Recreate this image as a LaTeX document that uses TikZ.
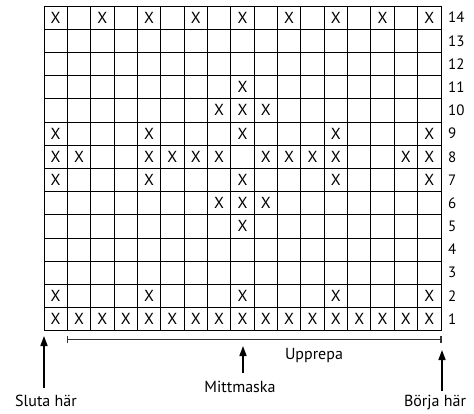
\documentclass[tikz,border=0pt]{standalone}
\usepackage{fontspec}
\setmainfont{PT Sans}
\usetikzlibrary{arrows.meta}
\tikzset{
  gridline/.style={line width=0.9pt},
  xmark/.style={font=\fontsize{16}{16}\selectfont, inner sep=0pt},
  rownum/.style={font=\fontsize{15}{15}\selectfont, anchor=west, inner sep=0pt},
  caption/.style={font=\fontsize{16}{16}\selectfont, inner sep=0pt, anchor=base},
  pointer/.style={line width=1.6pt, -{Triangle[length=10pt,width=7pt]}},
  bracket/.style={line width=1.2pt, draw=black!80}
}
\begin{document}
\begin{tikzpicture}[x=1pt,y=-1pt]
\useasboundingbox (0,0) rectangle (474,414);
\def\cw{23.35}
\def\ch{23.2}
% grid
\foreach \i in {0,...,17} {
  \draw[gridline] ({44+\i*\cw},6) -- ({44+\i*\cw},{6+14*\ch});
}
\foreach \j in {0,...,14} {
  \draw[gridline] (44,{6+\j*\ch}) -- ({44+17*\cw},{6+\j*\ch});
}
% X marks
\foreach \r/\cols in {1/{1,2,3,4,5,6,7,8,9,10,11,12,13,14,15,16,17},
                      2/{1,5,9,13,17},
                      5/{9},
                      6/{8,9,10},
                      7/{1,5,9,13,17},
                      8/{1,2,5,6,7,8,10,11,12,13,16,17},
                      9/{1,5,9,13,17},
                      10/{8,9,10},
                      11/{9},
                      14/{1,3,5,7,9,11,13,15,17}} {
  \foreach \c in \cols {
    \node[xmark] (x-\r-\c) at ({44+\cw*(\c-0.5)},{6+\ch*(14-\r+0.5)}) {X};
  }
}
% row numbers
\foreach \r in {1,...,14} {
  \node[rownum] (row-\r) at (448,{6+\ch*(14-\r+0.5)}) {\r};
}
% repeat bracket
\coordinate (repL) at (67.5,339.5);
\coordinate (repR) at (441,339.5);
\draw[bracket] (repL) -- (repR);
\draw[bracket] ([yshift=-3.5pt]repL) -- ([yshift=3.5pt]repL);
\draw[bracket] ([yshift=-3.5pt]repR) -- ([yshift=3.5pt]repR);
\node[caption] (upprepa) at (314,359) {Upprepa};
% arrows and labels
\node[caption] (sluta) at (46,406) {Sluta här};
\node[caption] (mitt) at (240,392) {Mittmaska};
\node[caption] (borja) at (435,406) {Börja här};
\coordinate (slutaTip) at (44,336);
\coordinate (slutaBase) at (44,388);
\coordinate (mittTip) at (243,346);
\coordinate (mittBase) at (243,373);
\coordinate (borjaTip) at (442,350);
\coordinate (borjaBase) at (442,391);
\draw[pointer] (slutaBase) -- (slutaTip);
\draw[pointer] (mittBase) -- (mittTip);
\draw[pointer] (borjaBase) -- (borjaTip);
\end{tikzpicture}
\end{document}
